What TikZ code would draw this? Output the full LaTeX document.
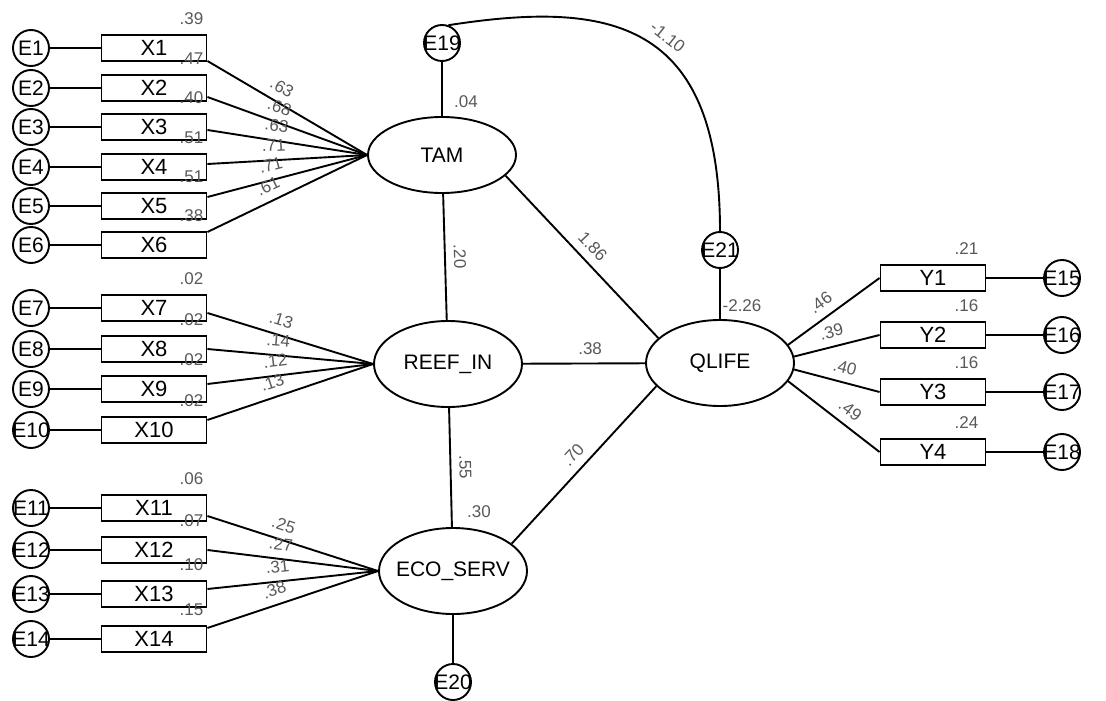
\documentclass[tikz,border=0pt]{standalone}
\usepackage{fontspec}
\setmainfont{Liberation Sans}
\usepackage{tikz}
\usetikzlibrary{shapes.geometric}

\tikzset{
  obs/.style = {draw, rectangle, minimum width=52.5pt, minimum height=13pt, inner sep=0pt,
                font=\fontsize{11}{12}\selectfont},
  err/.style = {draw, circle, minimum size=18pt, inner sep=-1pt,
                font=\fontsize{10.5}{12}\selectfont},
  lat/.style = {draw, ellipse, minimum width=74pt, minimum height=43pt,
                inner xsep=-10pt, inner ysep=0pt, font=\fontsize{10.5}{12}\selectfont},
  coef/.style = {font=\fontsize{8.5}{9}\selectfont, text=black!65, inner sep=1pt}
}

\begin{document}
\begin{tikzpicture}[x=0.5pt, y=-0.5pt, line width=0.95pt]
\path[use as bounding box, fill=white] (0,0) rectangle (1106,700);

% latent variables and their disturbances
\node[lat, minimum height=38pt] (TAM) at (442,155) {TAM};
\node[lat] (REEF) at (448,364) {REEF\_IN};
\node[lat] (ECO) at (453,571) {ECO\_SERV};
\node[lat] (QLIFE) at (720,363) {QLIFE};
\node[err] (E19) at (442,43) {E19};
\node[err] (E20) at (453,682) {E20};
\node[err] (E21) at (720,250) {E21};

\draw (E19) -- (TAM);
\draw (ECO) -- (E20);
\draw (E21) -- (QLIFE);
\node[coef] at ([xshift=12pt,yshift=7pt]TAM.north) {.04};
\node[coef] at ([xshift=13pt,yshift=7.5pt]ECO.north) {.30};
\node[coef] at ([xshift=11pt,yshift=6.5pt]QLIFE.north) {-2.26};

% structural paths
\draw (TAM) -- node[coef, sloped, above=3pt] {.20} (REEF);
\draw (REEF) -- node[coef, sloped, above=3pt] {.55} (ECO);
\draw (REEF) -- node[coef, above=3pt, pos=0.55] {.38} (QLIFE);
\draw (TAM.-18) -- node[coef, sloped, above=3pt] {1.86} (QLIFE.158);
\draw (ECO.25) -- node[coef, sloped, above=3pt] {.70} (QLIFE.200);
\draw (E19.70) .. controls (610,0) and (720,20) .. (E21.north)
  node[coef, sloped, above=3pt, pos=0.55] {-1.10};

% indicators X1..X14
\foreach \i/\y/\o/\r/\p/\l in {1/48/-6.5/.39/.63/TAM, 2/88/-4.5/.47/.68/TAM,
    3/127/-1.5/.40/.63/TAM, 4/167/1.5/.51/.71/TAM, 5/206/4.5/.51/.71/TAM,
    6/245/6.5/.38/.61/TAM, 7/308/-2.5/.02/.13/REEF, 8/349/0/.02/.14/REEF,
    9/389/2.5/.02/.12/REEF, 10/430/5/.02/.13/REEF, 11/508/-4/.06/.25/ECO,
    12/550/0/.07/.27/ECO, 13/594/2.5/.10/.31/ECO, 14/639/5.5/.15/.38/ECO} {
  \node[err] (E\i) at (31,\y) {E\i};
  \node[obs] (X\i) at (154,\y) {X\i};
  \draw (E\i) -- (X\i);
  \node[coef] at ([xshift=-8pt,yshift=7.5pt]X\i.north east) {\r};
  \draw ([yshift=\o pt]X\i.east) -- node[coef, sloped, above=3pt, pos=0.42] {\p} (\l.west);
}

% indicators Y1..Y4
\foreach \i/\y/\e/\r/\p/\a/\s in {1/278/15/.21/.46/15/0.45, 2/335/16/.16/.39/5/0.48,
    3/392/17/.16/.40/-5/0.55, 4/452/18/.24/.49/-15/0.58} {
  \node[obs] (Y\i) at (933,\y) {Y\i};
  \node[err] (E\e) at (1062,\y) {E\e};
  \draw (Y\i) -- (E\e);
  \node[coef] at ([xshift=-10pt,yshift=7.5pt]Y\i.north east) {\r};
  \draw (QLIFE.\a) -- node[coef, sloped, above=3pt, pos=\s] {\p} (Y\i.west);
}
\end{tikzpicture}
\end{document}
